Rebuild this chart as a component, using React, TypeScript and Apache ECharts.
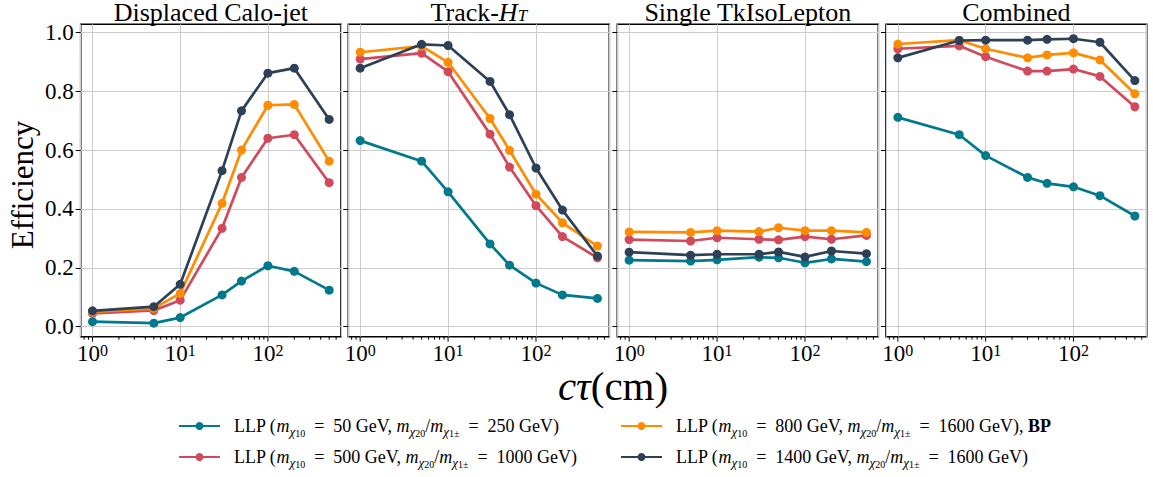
import React, { useEffect, useRef } from "react";
import * as echarts from "echarts";

// ---- data ----
const ctau = [1, 5, 10, 30, 50, 100, 200, 500];

const panelTitles = ["Displaced Calo-jet", "Track-{i|H}{s|T}", "Single TkIsoLepton", "Combined"];

const seriesNames = ["m50", "m500", "m800", "m1400"];
const massLsp = ["50", "500", "800", "1400"];
const massHeavy = ["250", "1000", "1600", "1600"];

const caloM50 = [0.017, 0.012, 0.031, 0.108, 0.155, 0.207, 0.188, 0.124];
const caloM500 = [0.045, 0.055, 0.09, 0.334, 0.507, 0.64, 0.652, 0.489];
const caloM800 = [0.05, 0.062, 0.113, 0.419, 0.6, 0.752, 0.755, 0.562];
const caloM1400 = [0.054, 0.068, 0.144, 0.53, 0.733, 0.861, 0.878, 0.704];

const htM50 = [0.632, 0.562, 0.458, 0.281, 0.209, 0.148, 0.108, 0.096];
const htM500 = [0.909, 0.929, 0.866, 0.654, 0.542, 0.411, 0.306, 0.234];
const htM800 = [0.932, 0.953, 0.898, 0.707, 0.599, 0.45, 0.353, 0.274];
const htM1400 = [0.878, 0.959, 0.955, 0.833, 0.72, 0.539, 0.396, 0.24];

const lepM50 = [0.226, 0.223, 0.227, 0.236, 0.234, 0.217, 0.23, 0.221];
const lepM500 = [0.296, 0.291, 0.302, 0.297, 0.295, 0.306, 0.297, 0.31];
const lepM800 = [0.322, 0.32, 0.326, 0.323, 0.336, 0.326, 0.326, 0.32];
const lepM1400 = [0.253, 0.243, 0.246, 0.246, 0.254, 0.237, 0.257, 0.248];

const combM50 = [0.711, 0.652, 0.581, 0.507, 0.487, 0.475, 0.445, 0.376];
const combM500 = [0.944, 0.954, 0.917, 0.868, 0.868, 0.875, 0.85, 0.747];
const combM800 = [0.96, 0.973, 0.944, 0.913, 0.923, 0.93, 0.906, 0.791];
const combM1400 = [0.913, 0.972, 0.973, 0.973, 0.976, 0.978, 0.966, 0.836];

const panelData = [
  [caloM50, caloM500, caloM800, caloM1400],
  [htM50, htM500, htM800, htM1400],
  [lepM50, lepM500, lepM800, lepM1400],
  [combM50, combM500, combM800, combM1400],
];

const yTicks = [0, 0.2, 0.4, 0.6, 0.8, 1.0];
const xMajorTicks = [1, 10, 100];
const xMinorTicks = [0.8, 0.9, 2, 3, 4, 5, 6, 7, 8, 9, 20, 30, 40, 50, 60, 70, 80, 90, 200, 300, 400, 500, 600];

// ---- styling ----
const colors = ["#00798c", "#d1495b", "#ff8c00", "#2e4057"];
const FONT = '"Liberation Serif", "DejaVu Serif", serif';
const X_MIN = 0.733;
const X_MAX = 682;
const Y_MIN = -0.034;
const Y_MAX = 1.027;
const grids = [
  { left: 80.7, width: 260.3 },
  { left: 348.3, width: 261 },
  { left: 617.3, width: 261 },
  { left: 886, width: 260.7 },
];
const GRID_TOP = 24.3;
const GRID_H = 312.4;

function llpLabel(i: number): string {
  let s =
    `{t|LLP (}{m|m}{c|χ}{s|1}{u|0}{t|  =  ${massLsp[i]} GeV, }` +
    `{m|m}{c|χ}{s|2}{u|0}{t|/}{m|m}{c|χ}{s|1}{u|±}{t|  =  ${massHeavy[i]} GeV)}`;
  if (i === 2) s += "{t|, }{b|BP}";
  return s;
}

const legendRich = {
  t: { fontFamily: FONT, fontSize: 18, lineHeight: 24, color: "#000" },
  m: { fontFamily: FONT, fontSize: 18, lineHeight: 24, fontStyle: "italic", color: "#000" },
  c: { fontFamily: FONT, fontSize: 13, lineHeight: 14, fontStyle: "italic", verticalAlign: "bottom", color: "#000" },
  s: { fontFamily: FONT, fontSize: 10, lineHeight: 6, verticalAlign: "bottom", color: "#000" },
  u: { fontFamily: FONT, fontSize: 10, lineHeight: 22, verticalAlign: "bottom", color: "#000" },
  b: { fontFamily: FONT, fontSize: 18, lineHeight: 24, fontWeight: "bold", color: "#000" },
};

export default function App() {
  const ref = useRef<HTMLDivElement>(null);
  useEffect(() => {
    if (!ref.current) return;
    const chart = echarts.init(ref.current, undefined, { renderer: "svg" });

    const gridOpt = grids.map((g) => ({
      left: g.left,
      top: GRID_TOP,
      width: g.width,
      height: GRID_H,
      show: true,
      borderColor: "#000",
      borderWidth: 1.6,
      backgroundColor: "transparent",
    }));

    const xAxes = grids.map((_, i) => ({
      type: "log",
      logBase: 10,
      gridIndex: i,
      min: X_MIN,
      max: X_MAX,
      axisLine: { show: false, onZero: false },
      axisTick: { show: false },
      axisLabel: {
        margin: 6,
        formatter: (v: number) => {
          const e = Math.log10(v);
          const r = Math.round(e);
          if (Math.abs(e - r) > 1e-6) return "";
          return `{b|10}{e|${r}}`;
        },
        rich: {
          b: { fontFamily: FONT, fontSize: 23, lineHeight: 22, color: "#000" },
          e: { fontFamily: FONT, fontSize: 16, lineHeight: 12, verticalAlign: "top", color: "#000" },
        },
      },
      splitLine: { show: true, lineStyle: { color: "#cccccc", width: 1 } },
    }));

    const yAxes = grids.map((_, i) => ({
      type: "value",
      gridIndex: i,
      min: Y_MIN,
      max: Y_MAX,
      axisLine: { show: false, onZero: false },
      axisTick: {
        show: true,
        customValues: yTicks,
        length: 5,
        lineStyle: { color: "#000", width: 1 },
      },
      axisLabel: {
        show: i === 0,
        customValues: yTicks,
        margin: 7,
        formatter: (v: number) => v.toFixed(1),
        fontFamily: FONT,
        fontSize: 23,
        color: "#000",
      },
      splitLine: { show: true, lineStyle: { color: "#cccccc", width: 1 } },
    }));

    const series: any[] = [];
    panelData.forEach((panel, p) => {
      panel.forEach((vals, s) => {
        series.push({
          type: "line",
          name: seriesNames[s],
          xAxisIndex: p,
          yAxisIndex: p,
          data: ctau.map((x, k) => [x, vals[k]]),
          symbol: "circle",
          symbolSize: 9,
          showSymbol: true,
          lineStyle: { width: 2.7, color: colors[s], join: "round" },
          itemStyle: { color: colors[s] },
          emphasis: { disabled: true },
          z: 3 + s,
        });
      });
      const tickData = [
        ...xMajorTicks.map((v) => [v, Y_MIN, 1]),
        ...xMinorTicks.map((v) => [v, Y_MIN, 0]),
      ];
      series.push({
        type: "custom",
        xAxisIndex: p,
        yAxisIndex: p,
        silent: true,
        clip: false,
        data: tickData,
        renderItem: (_params: any, api: any) => {
          const pt = api.coord([api.value(0), Y_MIN]);
          const len = api.value(2) ? 5 : 3;
          return {
            type: "line",
            shape: { x1: pt[0], y1: pt[1], x2: pt[0], y2: pt[1] + len },
            style: { stroke: "#000", lineWidth: 1 },
          };
        },
        z: 10,
      });
    });

    const titles = panelTitles.map((t, i) => ({
      text: t,
      left: grids[i].left + grids[i].width / 2,
      top: 0,
      padding: 0,
      textAlign: "center",
      textStyle: {
        fontFamily: FONT,
        fontSize: 26,
        lineHeight: 24,
        fontWeight: "normal",
        color: "#000",
        rich: {
          i: { fontFamily: FONT, fontSize: 26, lineHeight: 24, fontStyle: "italic", color: "#000" },
          s: { fontFamily: FONT, fontSize: 17, lineHeight: 10, fontStyle: "italic", verticalAlign: "bottom", color: "#000" },
        },
      },
    }));

    const legendBase = {
      orient: "vertical",
      top: 417,
      padding: 0,
      itemWidth: 41,
      itemHeight: 10,
      itemGap: 10,
      selectedMode: false,
      formatter: (name: string) => llpLabel(seriesNames.indexOf(name)),
      textStyle: { fontFamily: FONT, fontSize: 18, color: "#000", padding: [0, 0, 0, 9], rich: legendRich },
    };

    chart.setOption({
      animation: false,
      title: titles,
      grid: gridOpt,
      xAxis: xAxes,
      yAxis: yAxes,
      legend: [
        { ...legendBase, left: 178, data: ["m50", "m500"] },
        { ...legendBase, left: 620, data: ["m800", "m1400"] },
      ],
      graphic: [
        {
          type: "text",
          x: 22,
          y: 185,
          rotation: Math.PI / 2,
          style: {
            text: "Efficiency",
            fontFamily: FONT,
            fontSize: 31,
            fill: "#000",
            align: "center",
            verticalAlign: "middle",
          },
        },
        {
          type: "text",
          x: 613,
          y: 386,
          style: {
            text: "{i|cτ}{n|(cm)}",
            align: "center",
            verticalAlign: "middle",
            rich: {
              i: { fontFamily: FONT, fontSize: 41, lineHeight: 30, fontStyle: "italic", fill: "#000" },
              n: { fontFamily: FONT, fontSize: 41, lineHeight: 30, fill: "#000" },
            },
          },
        },
      ],
      series,
    });
    return () => chart.dispose();
  }, []);
  return (
    <div
      ref={ref}
      style={{ position: "absolute", left: 0, top: 0, width: 1153, height: 477 }}
    />
  );
}
